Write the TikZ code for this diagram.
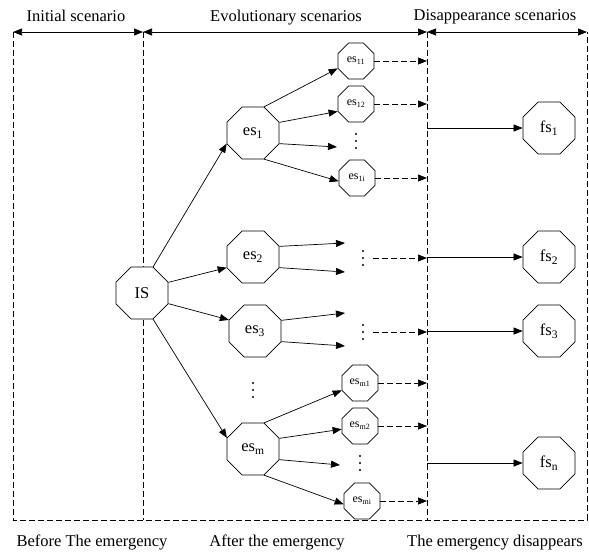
\documentclass[tikz,border=0pt]{standalone}
\usepackage{fontspec}
\setmainfont{Liberation Serif}
\usetikzlibrary{arrows.meta,shapes.geometric}
\newcommand{\vdotsat}[2]{%
  \coordinate (#1) at (#2);
  \fill (#1) ++(0,-7) circle (1.1pt) (#1) circle (1.1pt) (#1) ++(0,7) circle (1.1pt);}
\begin{document}
\begin{tikzpicture}[x=1pt,y=-1pt,
  oct/.style={draw, fill=white, regular polygon, regular polygon sides=8, minimum size=56.3pt, inner sep=0pt,
    font=\fontsize{16.5}{18}\selectfont, line width=0.7pt},
  soct/.style={oct, minimum size=39pt, font=\fontsize{12}{14}\selectfont},
  arr/.style={-{Triangle[length=9pt,width=7pt]}, line width=0.7pt},
  darr/.style={arr, dash pattern=on 6pt off 3pt},
  dbl/.style={{Triangle[length=9pt,width=7pt]}-{Triangle[length=9pt,width=7pt]}, line width=0.7pt},
  bound/.style={line width=0.7pt, dash pattern=on 6pt off 3pt},
  lab/.style={font=\fontsize{16.5}{18}\selectfont, anchor=base, inner sep=0pt}]
\useasboundingbox (0,0) rectangle (589,554);

% frame coordinates
\coordinate (t0) at (13,32);
\coordinate (t1) at (143,32);
\coordinate (t2) at (427,32);
\coordinate (t3) at (587,32);
\coordinate (b0) at (13,520);
\coordinate (b1) at (143,520);
\coordinate (b2) at (427,520);
\coordinate (b3) at (587,520);

\draw[bound] (t0) -- (b0) -- (b3) -- (t3);
\draw[bound] (t1) -- (b1);
\draw[bound] (t2) -- (b2);
\draw[dbl] (t0) -- (t1);
\draw[dbl] (t1) -- (t2);
\draw[dbl] (t2) -- (t3);

% labels
\node[lab] (l1) at (76,21) {Initial scenario};
\node[lab] (l2) at (286,21) {Evolutionary scenarios};
\node[lab] (l3) at (495,20) {Disappearance scenarios};
\node[lab] (l4) at (92,546) {Before The emergency};
\node[lab] (l5) at (277,546) {After the emergency};
\node[lab] (l6) at (495,546) {The emergency disappears};

% main nodes
\node[oct] (IS) at (142,293) {IS};
\node[oct] (es1) at (253,133) {es\textsubscript{1}};
\node[oct] (es2) at (253,257) {es\textsubscript{2}};
\node[oct] (es3) at (255,331) {es\textsubscript{3}};
\node[oct] (esm) at (253,449) {es\textsubscript{m}};
\vdotsat{dm}{253,390}

% small nodes
\node[soct] (es11) at (356,61) {es\textsubscript{11}};
\node[soct] (es12) at (356,104) {es\textsubscript{12}};
\vdotsat{d1}{356,141}
\node[soct] (es1i) at (357,178) {es\textsubscript{1i}};

\vdotsat{d2}{363,258}
\vdotsat{d3}{363,332}

\node[soct] (esm1) at (360,383) {es\textsubscript{m1}};
\node[soct] (esm2) at (360,426) {es\textsubscript{m2}};
\vdotsat{dm2}{360,463}
\node[soct] (esmi) at (362,501) {es\textsubscript{mi}};

% final nodes
\node[oct] (fs1) at (549,128) {fs\textsubscript{1}};
\node[oct] (fs2) at (549,257) {fs\textsubscript{2}};
\node[oct] (fs3) at (549,331) {fs\textsubscript{3}};
\node[oct] (fsn) at (549,463) {fs\textsubscript{n}};

% IS edges
\draw[arr] (IS.67.5) -- (es1.202.5);
\draw[arr] (IS.22.5) -- (es2.202.5);
\draw[arr] (IS.-22.5) -- (es3.157.5);
\draw[arr] (IS.-67.5) -- (esm.157.5);

% es1 edges
\coordinate (e1d) at (337,147);
\draw[arr] (es1.67.5) -- (es11.202.5);
\draw[arr] (es1.22.5) -- (es12.202.5);
\draw[arr] (es1.-22.5) -- (e1d);
\draw[arr] (es1.-67.5) -- (es1i.190);

% es2 edges
\coordinate (e2a) at (345,243);
\coordinate (e2b) at (345,272);
\draw[arr] (es2.22.5) -- (e2a);
\draw[arr] (es2.-22.5) -- (e2b);

% es3 edges
\coordinate (e3a) at (345,313);
\coordinate (e3b) at (345,346);
\draw[arr] (es3.22.5) -- (e3a);
\draw[arr] (es3.-22.5) -- (e3b);

% esm edges
\coordinate (emd) at (340,465);
\draw[arr] (esm.67.5) -- (esm1.202.5);
\draw[arr] (esm.22.5) -- (esm2.190);
\draw[arr] (esm.-22.5) -- (emd);
\draw[arr] (esm.-67.5) -- (esmi.190);

% dashed arrows to boundary
\draw[darr] (es11.east) -- (es11.east -| t2);
\draw[darr] (es12.east) -- (es12.east -| t2);
\draw[darr] (es1i.east) -- (es1i.east -| t2);
\draw[darr] ([xshift=10pt]d2) -- (d2 -| t2);
\draw[darr] ([xshift=10pt]d3) -- (d3 -| t2);
\draw[darr] (esm1.east) -- (esm1.east -| t2);
\draw[darr] (esm2.east) -- (esm2.east -| t2);
\draw[darr] (esmi.east) -- (esmi.east -| t2);

% boundary to final
\draw[arr] (fs1.west -| t2) -- (fs1.west);
\draw[arr] (fs2.west -| t2) -- (fs2.west);
\draw[arr] (fs3.west -| t2) -- (fs3.west);
\draw[arr] (fsn.west -| t2) -- (fsn.west);
\end{tikzpicture}
\end{document}
